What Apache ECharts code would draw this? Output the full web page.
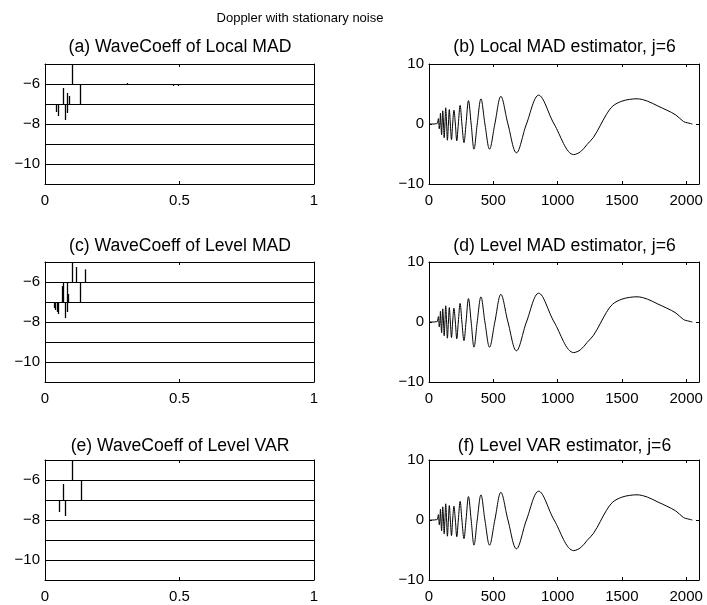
<!DOCTYPE html>
<html><head><meta charset="utf-8">
<script src="https://cdn.jsdelivr.net/npm/echarts@6/dist/echarts.min.js"></script>
<style>html,body{margin:0;padding:0;background:#fff}#c{width:707px;height:605px}</style>
</head><body><div id="c"></div><script>
// ---------- text ----------
const mainTitle = 'Doppler with stationary noise';
const leftTitles = ['(a) WaveCoeff of Local MAD', '(c) WaveCoeff of Level MAD', '(e) WaveCoeff of Level VAR'];
const rightTitles = ['(b) Local MAD estimator, j=6', '(d) Level MAD estimator, j=6', '(f) Level VAR estimator, j=6'];

// ---------- axes ----------
const coeffXRange = [0, 1];
const coeffXStep = 0.5;
const coeffYRange = [-11, -5];
const coeffYLabels = [-10, -8, -6];
const signalXRange = [0, 2100];
const signalXLabels = [0, 500, 1000, 1500, 2000];
const signalYRange = [-10, 10];
const signalYStep = 10;

// ---------- wavelet coefficient stems: [position, from, to] ----------
const coeffA = [
  [0.041, -7, -7.4], [0.047, -7, -7.6], [0.066, -7, -6.2], [0.073, -7, -7.8],
  [0.080, -7, -6.45], [0.082, -7, -7.45], [0.088, -7, -6.6], [0.099, -6, -5],
  [0.131, -7, -6], [0.304, -6, -5.95], [0.477, -6, -6.1], [0.493, -6, -6.1]
];
const coeffC = [
  [0.033, -7, -7.3], [0.038, -7, -7.4], [0.043, -7, -7.5], [0.049, -7, -7.6],
  [0.063, -7, -6.2], [0.066, -6, -7], [0.073, -7, -7.8], [0.080, -6, -7],
  [0.082, -7, -7.5], [0.086, -7, -6.6], [0.099, -6, -5], [0.116, -6, -5.25],
  [0.131, -7, -6], [0.150, -6, -5.37]
];
const coeffE = [
  [0.051, -7, -7.6], [0.066, -7, -6.2], [0.073, -7, -7.8], [0.099, -6, -5], [0.133, -7, -6]
];

// ---------- estimated signal ----------
const sigX = [0, 20, 40, 55, 65, 70, 73, 77, 80, 85, 89, 93, 98, 102, 107, 113, 118, 124, 130, 137,
  143, 151, 158, 166, 175, 184, 194, 205, 216, 228, 242, 256, 272, 288, 307, 328, 350, 375, 404, 435,
  471, 512, 559, 614, 680, 758, 853, 973, 1126, 1180, 1230, 1280, 1331, 1380, 1430, 1500, 1560, 1618,
  1700, 1780, 1850, 1920, 1980, 2010, 2048];
const sigB = [0, 0, 0, 0.05, 0.1, 0.6, 0.9, 0, -0.8, 0, 1.8, 0, -1.8, 0, 2.2, 0, -2.3, 0, 2.7, 0,
  -2.7, 0, 2.4, 0, -2.6, 0, 2.3, 0, -2.8, 0, 3.1, 0, -3.1, 0, 3.9, 0, -4.2, 0, 4.2, 0,
  -4.2, 0, 4.6, 0, -4.8, 0, 4.8, 0, -5.1, -4.6, -3.4, -2.2, -0.3, 1.6, 3.0, 3.8, 4.1, 4.2,
  3.8, 3.0, 2.3, 1.5, 0.4, 0.2, 0];
const sigD = [0, 0, 0, 0.05, 0.1, 0.6, 0.9, 0, -0.8, 0, 1.8, 0, -1.8, 0, 2.2, 0, -2.3, 0, 2.7, 0,
  -2.7, 0, 2.4, 0, -2.6, 0, 2.3, 0, -2.8, 0, 3.1, 0, -3.1, 0, 3.9, 0, -4.2, 0, 4.2, 0,
  -4.2, 0, 4.6, 0, -4.8, 0, 4.8, 0, -5.1, -4.6, -3.4, -2.2, -0.3, 1.6, 3.0, 3.8, 4.1, 4.2,
  3.8, 3.0, 2.3, 1.5, 0.4, 0.2, 0];
const sigF = [0, 0, 0, 0.05, 0.1, 0.6, 0.9, 0, -0.8, 0, 1.8, 0, -1.8, 0, 2.2, 0, -2.3, 0, 2.7, 0,
  -2.7, 0, 2.4, 0, -2.6, 0, 2.3, 0, -2.8, 0, 3.1, 0, -3.1, 0, 3.9, 0, -4.2, 0, 4.2, 0,
  -4.2, 0, 4.6, 0, -4.8, 0, 4.8, 0, -5.1, -4.6, -3.4, -2.2, -0.3, 1.6, 3.0, 3.8, 4.1, 4.2,
  3.8, 3.0, 2.3, 1.5, 0.4, 0.2, 0];

const coeffSets = [coeffA, coeffC, coeffE];
const sigSets = [sigB, sigD, sigF];

// ---------- layout ----------
const FONT = '"Liberation Sans", Arial, Helvetica, sans-serif';
const rowTops = [64, 262, 460];
const plotH = 120;
const leftX = 45, leftW = 269;
const rightX = 429, rightW = 270;
const titleYs = [47, 246.5, 446.5];

const minus = s => String(s).replace('-', '\u2212');
const axisLine = { show: true, onZero: false, lineStyle: { color: '#000', width: 1 } };
const tickIn = { show: true, inside: true, length: 3, lineStyle: { color: '#000', width: 1 } };
const lbl = { color: '#000', fontSize: 15, fontFamily: FONT };

const grid = [], xAxis = [], yAxis = [], series = [], graphic = [];

graphic.push({ type: 'text', x: 300, y: 18, style: { text: mainTitle, font: '13px ' + FONT, fill: '#000', align: 'center', verticalAlign: 'middle', textAlign: 'center', textVerticalAlign: 'middle' } });

for (let r = 0; r < 3; r++) {
  // left: coefficients
  let g = grid.length;
  grid.push({ left: leftX, top: rowTops[r], width: leftW, height: plotH, containLabel: false });
  let xb = xAxis.length;
  xAxis.push({ gridIndex: g, type: 'value', min: coeffXRange[0], max: coeffXRange[1], interval: coeffXStep,
    axisLine, axisTick: tickIn, splitLine: { show: false },
    axisLabel: Object.assign({ margin: 9, formatter: v => String(v) }, lbl) });
  xAxis.push({ gridIndex: g, type: 'value', position: 'top', min: coeffXRange[0], max: coeffXRange[1], interval: coeffXStep,
    axisLine, axisTick: tickIn, splitLine: { show: false }, axisLabel: { show: false } });
  let yb = yAxis.length;
  yAxis.push({ gridIndex: g, type: 'value', min: coeffYRange[0], max: coeffYRange[1], interval: 1,
    axisLine, axisTick: { show: false },
    splitLine: { show: true, lineStyle: { color: '#000', width: 1 } },
    axisLabel: Object.assign({ margin: 5, formatter: v => coeffYLabels.includes(v) ? minus(v) : '' }, lbl) });
  yAxis.push({ gridIndex: g, type: 'value', position: 'right', min: coeffYRange[0], max: coeffYRange[1], interval: 1,
    axisLine, axisTick: { show: false }, splitLine: { show: false }, axisLabel: { show: false } });
  series.push({
    type: 'custom', xAxisIndex: xb, yAxisIndex: yb, silent: true, animation: false,
    encode: { x: 0, y: [1, 2] },
    data: coeffSets[r],
    renderItem: (params, api) => {
      const p0 = api.coord([api.value(0), api.value(1)]);
      const p1 = api.coord([api.value(0), api.value(2)]);
      const x = Math.round(p0[0]) + 0.5;
      return { type: 'line', shape: { x1: x, y1: p0[1], x2: x, y2: p1[1] }, style: { stroke: '#000', lineWidth: 1.3 } };
    }
  });
  graphic.push({ type: 'text', x: leftX + leftW / 2 + 0.5, y: titleYs[r], style: { text: leftTitles[r], font: '17.6px ' + FONT, fill: '#000', align: 'center', verticalAlign: 'middle', textAlign: 'center', textVerticalAlign: 'middle' } });

  // right: signal
  g = grid.length;
  grid.push({ left: rightX, top: rowTops[r], width: rightW, height: plotH, containLabel: false });
  xb = xAxis.length;
  xAxis.push({ gridIndex: g, type: 'value', min: signalXRange[0], max: signalXRange[1], interval: 500,
    axisLine, axisTick: tickIn, splitLine: { show: false },
    axisLabel: Object.assign({ margin: 9, showMaxLabel: false, formatter: v => signalXLabels.includes(v) ? String(v) : '' }, lbl) });
  xAxis.push({ gridIndex: g, type: 'value', position: 'top', min: signalXRange[0], max: signalXRange[1], interval: 500,
    axisLine, axisTick: tickIn, splitLine: { show: false }, axisLabel: { show: false } });
  yb = yAxis.length;
  yAxis.push({ gridIndex: g, type: 'value', min: signalYRange[0], max: signalYRange[1], interval: signalYStep,
    axisLine, axisTick: tickIn, splitLine: { show: false },
    axisLabel: Object.assign({ margin: 5, formatter: v => minus(v) }, lbl) });
  yAxis.push({ gridIndex: g, type: 'value', position: 'right', min: signalYRange[0], max: signalYRange[1], interval: signalYStep,
    axisLine, axisTick: tickIn, splitLine: { show: false }, axisLabel: { show: false } });
  series.push({
    type: 'line', xAxisIndex: xb, yAxisIndex: yb, silent: true, animation: false,
    showSymbol: false, symbol: 'none', smooth: 0.35,
    lineStyle: { color: '#000', width: 1 },
    data: sigX.map((x, i) => [x, sigSets[r][i]])
  });
  graphic.push({ type: 'text', x: rightX + rightW / 2 + 0.5, y: titleYs[r], style: { text: rightTitles[r], font: '17.6px ' + FONT, fill: '#000', align: 'center', verticalAlign: 'middle', textAlign: 'center', textVerticalAlign: 'middle' } });
}

const chart = echarts.init(document.getElementById('c'), null, { renderer: 'canvas' });
chart.setOption({ animation: false, backgroundColor: '#fff', grid, xAxis, yAxis, series, graphic });
</script></body></html>
